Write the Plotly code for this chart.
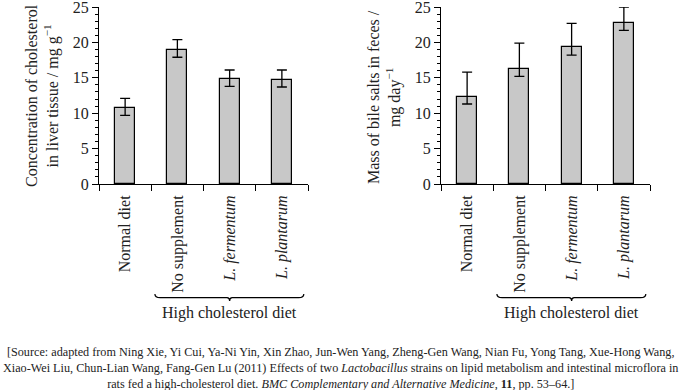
import plotly.graph_objects as go

# ---------------- data ----------------
categories = ["Normal diet", "No supplement", "<i>L. fermentum</i>", "<i>L. plantarum</i>"]
chol_values = [10.7, 18.9, 14.8, 14.7]
chol_err_plus = [1.4, 1.5, 1.3, 1.4]
chol_err_minus = [1.0, 1.0, 1.0, 1.0]
bile_values = [12.3, 16.2, 19.3, 22.7]
bile_err_plus = [3.5, 3.7, 3.4, 2.3]
bile_err_minus = [1.0, 1.0, 1.1, 1.0]
y_range = [0, 25]
y_major_step = 5
y_minor_step = 1
group_label = "High cholesterol diet"
group_members = [1, 2, 3]
left_title = "Concentration of cholesterol<br>in liver tissue / mg g<sup>−1</sup>"
right_title = "Mass of bile salts in feces /<br>mg day<sup>−1</sup>"
source_text = ("[Source: adapted from Ning Xie, Yi Cui, Ya-Ni Yin, Xin Zhao, Jun-Wen Yang, Zheng-Gen Wang, Nian Fu, Yong Tang, Xue-Hong Wang,<br>"
               "Xiao-Wei Liu, Chun-Lian Wang, Fang-Gen Lu (2011) Effects of two <i>Lactobacillus</i> strains on lipid metabolism and intestinal microflora in<br>"
               "rats fed a high-cholesterol diet. <i>BMC Complementary and Alternative Medicine</i>, <b>11</b>, pp. 53–64.]")

W, H = 681, 390
FONT = "Liberation Serif, Times New Roman, serif"
TXT = "#222222"

xpos = list(range(len(categories)))

def px_x(p):
    return p / W

def px_y(p):
    return 1 - p / H

fig = go.Figure()

def add_bars(vals, plus, minus, xa, ya):
    fig.add_trace(go.Bar(
        x=xpos, y=vals, width=0.38,
        marker=dict(color="#c8c8c8", line=dict(color="black", width=1.2)),
        error_y=dict(type="data", symmetric=False, array=plus, arrayminus=minus,
                     color="black", thickness=1.3, width=5),
        xaxis=xa, yaxis=ya, showlegend=False, hoverinfo="skip",
    ))

add_bars(chol_values, chol_err_plus, chol_err_minus, "x", "y")
add_bars(bile_values, bile_err_plus, bile_err_minus, "x2", "y2")

ydom = [px_y(184), px_y(7)]

def xaxis_style(domain, anchor):
    return dict(
        domain=domain, anchor=anchor, range=[-0.5, len(categories) - 0.5],
        showline=True, linecolor="black", linewidth=1,
        tickmode="array", tickvals=xpos, ticktext=categories,
        ticks="outside", ticklen=4, tickcolor="rgba(0,0,0,0)",
        tickangle=-90, tickfont=dict(family=FONT, size=16, color=TXT),
        ticklabeloverflow="allow", automargin=False,
        minor=dict(tickmode="linear", tick0=-0.5, dtick=1, ticks="outside",
                   ticklen=6, tickcolor="black", tickwidth=1),
        showgrid=False, zeroline=False, fixedrange=True,
    )

def yaxis_style(anchor):
    return dict(
        domain=ydom, anchor=anchor, range=y_range,
        showline=True, linecolor="black", linewidth=1,
        tickmode="linear", tick0=0, dtick=y_major_step,
        ticks="outside", ticklen=6, tickcolor="black", tickwidth=1,
        tickfont=dict(family=FONT, size=16, color=TXT),
        ticklabeloverflow="allow", automargin=False,
        minor=dict(tickmode="linear", tick0=0, dtick=y_minor_step, ticks="outside",
                   ticklen=3, tickcolor="black", tickwidth=1),
        showgrid=False, zeroline=False, fixedrange=True,
    )

fig.update_layout(
    width=W, height=H, margin=dict(l=0, r=0, t=0, b=0, pad=0, autoexpand=False),
    paper_bgcolor="white", plot_bgcolor="white",
    font=dict(family=FONT, color=TXT),
    xaxis=xaxis_style([px_x(99), px_x(308)], "y"),
    yaxis=yaxis_style("x"),
    xaxis2=xaxis_style([px_x(441), px_x(650)], "y2"),
    yaxis2=yaxis_style("x2"),
    bargap=0,
)

# axis titles
fig.add_annotation(text=left_title, xref="paper", yref="paper", x=px_x(42), y=px_y(96),
                   textangle=-90, showarrow=False, xanchor="center", yanchor="middle",
                   font=dict(family=FONT, size=16, color=TXT))
fig.add_annotation(text=right_title, xref="paper", yref="paper", x=px_x(384), y=px_y(97),
                   textangle=-90, showarrow=False, xanchor="center", yanchor="middle",
                   font=dict(family=FONT, size=16, color=TXT))

# group braces
gs = min(group_members) - 0.43
ge = max(group_members) + 0.42
gm = sum(group_members) / len(group_members)
y0, y1, y2 = px_y(294), px_y(297.7), px_y(301)
d = 0.1
d2 = 0.05
for xr in ["x", "x2"]:
    path = (f"M {gs},{y0} Q {gs},{y1} {gs+d},{y1} L {gm-d2},{y1} Q {gm},{y1} {gm},{y2} "
            f"Q {gm},{y1} {gm+d2},{y1} L {ge-d},{y1} Q {ge},{y1} {ge},{y0}")
    fig.add_shape(type="path", path=path, xref=xr, yref="paper",
                  line=dict(color="black", width=1.2))
    fig.add_annotation(text=group_label, xref=xr, yref="paper", x=gm, y=px_y(313),
                       showarrow=False, xanchor="center", yanchor="middle",
                       font=dict(family=FONT, size=16, color=TXT))

# source
fig.add_annotation(text=source_text, xref="paper", yref="paper", x=0.5, y=px_y(368),
                   showarrow=False, xanchor="center", yanchor="middle", align="center",
                   font=dict(family=FONT, size=12.2, color=TXT))

fig.write_html("out.html", config={"displayModeBar": False},
               post_script="document.body.style.margin='0px';document.body.style.overflow='hidden';")
